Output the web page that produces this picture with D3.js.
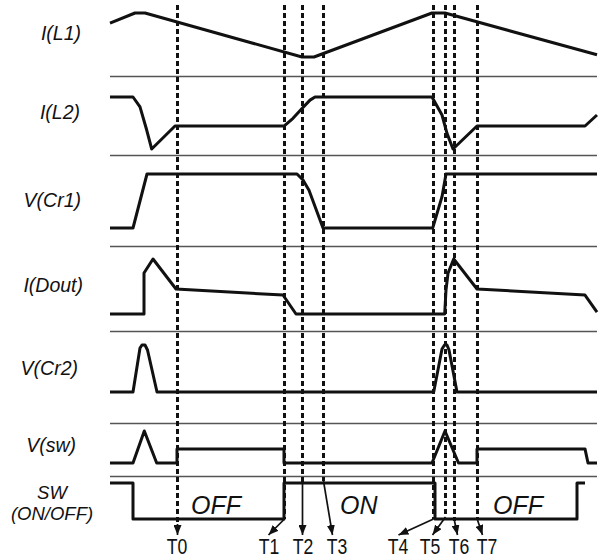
<!DOCTYPE html>
<html><head><meta charset="utf-8">
<script src="https://cdn.jsdelivr.net/npm/d3@7"></script>
<style>html,body{margin:0;padding:0;background:#fff;} svg{display:block;}</style>
</head><body>
<svg id="chart" width="604" height="558"></svg>
<script>
// ---------------- DATA ----------------
// time axis in arbitrary units (0 .. 487), amplitude of each trace normalised 0..1
const timeExtent = [0, 487];
const signalNames = ["I(L1)", "I(L2)", "V(Cr1)", "I(Dout)", "V(Cr2)", "V(sw)", "SW"];
const swLabelLines = ["SW", "(ON/OFF)"];

const iL1 = [[0,0.77],[25,1],[35,1],[192,0],[204,0],[322,1],[335,1],[487,0.05]];
const iL2 = [[0,1],[23,1],[30,0.81],[36.7,0.365],[41.7,0],[65,0.442],[174,0.442],[183,0.59],
             [192,0.78],[200,0.94],[205,1],[322,1],[332,0.654],[337,0.30],[343,0],[367,0.442],
             [475,0.442],[487,0.654]];
const vCr1 = [[0,0],[23,0],[37,1],[187,1],[193,0.89],[199,0.70],[213,0],[322.7,0],[332,0.58],
              [336,1],[487,1]];
const iDout = [[0,0],[34,0],[34,0.745],[43,1],[66,0.455],[173,0.345],[186,0],[334.7,0],[336,0.436],
               [338,0.74],[343.7,1],[367,0.455],[475,0.345],[487,0.036]];
const vCr2 = [[0,0],[23,0],[30,0.936],[32,1],[35,1],[37.5,0.894],[47,0],[323.7,0],[332,0.915],
              [334.5,1],[337,1],[339,0.894],[347,0],[487,0]];
const vSw = [[0,0],[23,0],[34.3,1],[46.7,0],[67,0],[67,0.44],[174,0.44],[174,0],[322,0],[335,1],
             [348.5,0],[367,0],[367,0.44],[475,0.44],[478,0],[487,0]];
const sw = [[0,1],[23,1],[23,0],[174,0],[174,1],[325,1],[325,0],[467,0],[467,1],[475,1]];

const markerNames = ["T0","T1","T2","T3","T4","T5","T6","T7"];
const markerTimes = [67, 174, 192, 213, 323, 335, 344, 367];
const markerLabelTimes = [67, 159, 193, 227, 288, 320, 349, 377];
const markerTipTimes = [67, 158, 192, 222, 288, 322, 347, 372];

const stateNames = ["OFF", "ON", "OFF"];
const stateTimes = [81, 230, 383];

// ---------------- LAYOUT ----------------
const W = 604, H = 558;
const xRange = [110, 597];
const panelY = [[57,13],[149,97],[228,174],[314,259],[392,345],[463,431],[519,483]];
const separators = [76, 155, 246, 331, 423, 476];
const labelPos = [[81,40],[80,119],[81,207],[83,292],[78,375],[76,452]];
const swLabelPos = [[52,499],[52,520]];
const dashTop = 5;
const dashEnd = [524, 519, 484, 481, 519, 517, 521, 520];
const tipY = 535;
const tLabelY = 554;
const stateY = 514;

const svg = d3.select("#chart");
const x = d3.scaleLinear().domain(timeExtent).range(xRange);
const yScales = panelY.map(r => d3.scaleLinear().domain([0,1]).range(r));
const snap = v => Math.round(v) + 0.5;

const defs = svg.append("defs");
defs.append("marker").attr("id","arr")
  .attr("viewBox","0 0 10 8").attr("refX",10).attr("refY",4)
  .attr("markerWidth",10).attr("markerHeight",8)
  .attr("markerUnits","userSpaceOnUse").attr("orient","auto")
  .append("path").attr("d","M0,0 L10,4 L0,8 Z").attr("fill","#111");

// separators
svg.append("g").selectAll("line").data(separators).join("line")
  .attr("x1", x(timeExtent[0])).attr("x2", x(timeExtent[1]))
  .attr("y1", d => d + 0.5).attr("y2", d => d + 0.5)
  .attr("stroke", "#555").attr("stroke-width", 1.3);

// traces
const traces = [iL1, iL2, vCr1, iDout, vCr2, vSw, sw];
traces.forEach((data, i) => {
  const line = d3.line().x(d => x(d[0])).y(d => yScales[i](d[1])).curve(d3.curveLinear);
  svg.append("path").attr("d", line(data))
    .attr("fill","none").attr("stroke","#111").attr("stroke-width",3)
    .attr("stroke-linejoin","round").attr("stroke-linecap","butt");
});

// dashed marker lines
svg.append("g").selectAll("line").data(markerTimes).join("line")
  .attr("x1", d => snap(x(d))).attr("x2", d => snap(x(d)))
  .attr("y1", dashTop).attr("y2", (d,i) => dashEnd[i])
  .attr("stroke","#111").attr("stroke-width",3).attr("stroke-dasharray","5,3");

// arrows
svg.append("g").selectAll("line").data(markerTimes).join("line")
  .attr("x1", d => snap(x(d))).attr("y1", (d,i) => dashEnd[i])
  .attr("x2", (d,i) => snap(x(markerTipTimes[i]))).attr("y2", tipY)
  .attr("stroke","#111").attr("stroke-width",1.7).attr("marker-end","url(#arr)");

// marker labels
svg.append("g").selectAll("text").data(markerNames).join("text")
  .attr("transform", (d,i) => `translate(${x(markerLabelTimes[i])},${tLabelY}) scale(0.82,1)`)
  .attr("text-anchor","middle")
  .style("font-family","'Liberation Sans', Arial, sans-serif").style("font-size","21.5px")
  .attr("fill","#111").text(d => d);

// signal labels
svg.append("g").selectAll("text").data(signalNames.slice(0,6)).join("text")
  .attr("x", (d,i) => labelPos[i][0]).attr("y", (d,i) => labelPos[i][1])
  .attr("text-anchor","end")
  .style("font-family","'Liberation Sans', Arial, sans-serif").style("font-size","19.5px")
  .style("font-style","italic").attr("fill","#111").text(d => d);

svg.append("g").selectAll("text").data(swLabelLines).join("text")
  .attr("x", (d,i) => swLabelPos[i][0]).attr("y", (d,i) => swLabelPos[i][1])
  .attr("text-anchor","middle")
  .style("font-family","'Liberation Sans', Arial, sans-serif").style("font-size","18.5px")
  .style("font-style","italic").attr("fill","#111").text(d => d);

// state labels
svg.append("g").selectAll("text").data(stateNames).join("text")
  .attr("x", (d,i) => x(stateTimes[i])).attr("y", stateY)
  .style("font-family","'Liberation Sans', Arial, sans-serif").style("font-size","25px")
  .style("font-style","italic").attr("fill","#111").text(d => d);
</script>
</body></html>
